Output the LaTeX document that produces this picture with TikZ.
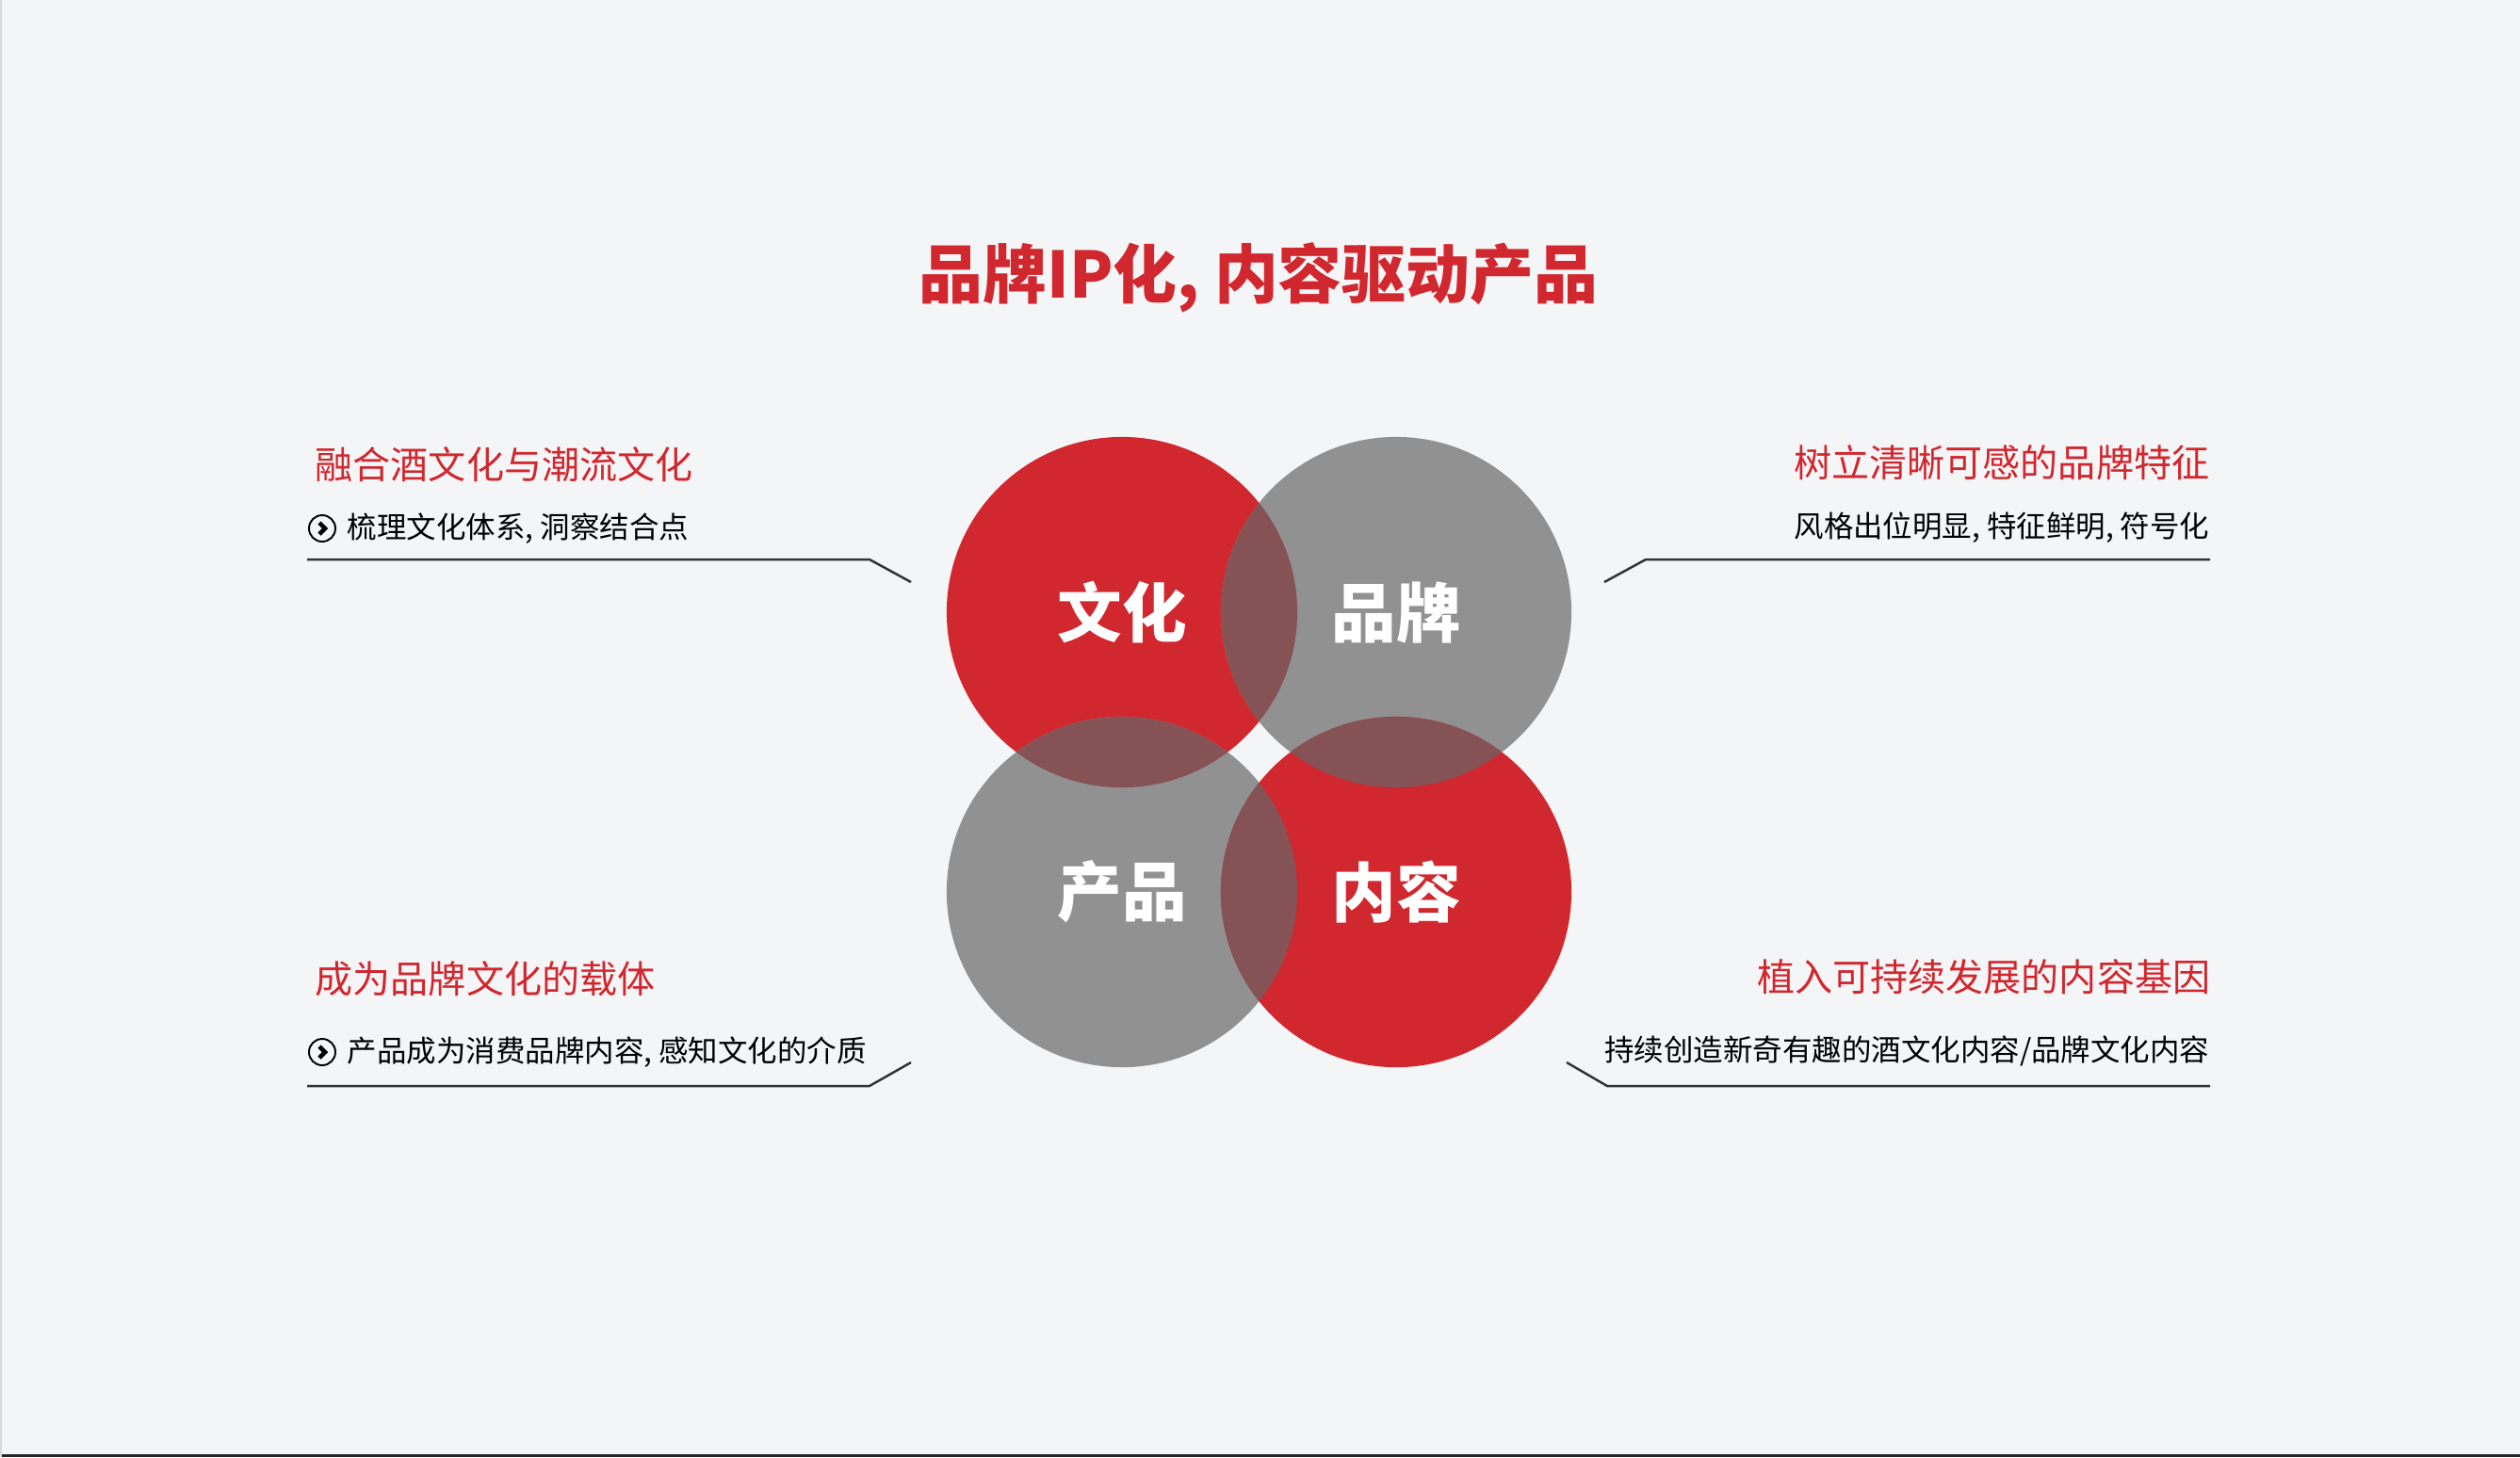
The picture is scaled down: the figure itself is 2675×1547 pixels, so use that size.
\documentclass[tikz,border=0pt]{standalone}
\usepackage{fontspec}
\newfontfamily\cjk{Noto Sans CJK SC}
\usetikzlibrary{positioning}
\definecolor{brandred}{RGB}{209,39,46}
\definecolor{bubblegray}{RGB}{145,145,145}
\definecolor{lensbrown}{RGB}{133,82,86}
\definecolor{pagebg}{RGB}{244,245,247}
\definecolor{rulegray}{RGB}{51,51,51}

\begin{document}
\begin{tikzpicture}[x=0.01cm, y=-0.01cm,
										bubble/.style={circle, minimum size=3.72cm, inner sep=0pt, text=white,
											font=\cjk\bfseries\fontsize{19.5pt}{19.5pt}\selectfont},
										headline/.style={inner sep=0pt, text=brandred,
											font=\cjk\fontsize{11.4pt}{11.4pt}\selectfont},
										subline/.style={inner sep=0pt, text=black,
											font=\cjk\fontsize{8.95pt}{8.95pt}\selectfont},
										arrowdot/.style={circle, draw=black, line width=0.55pt, minimum size=0.28cm, inner sep=0pt},
										leader/.style={draw=rulegray, line width=0.7pt}]
	\useasboundingbox (0,0) rectangle (2675,1547);
	\fill[pagebg] (0,0) rectangle (2675,1547);
	\draw[black!85, line width=0.9pt] (0,1545.5) -- (2675,1545.5);
	\draw[black!15, line width=0.3pt] (1,0) -- (1,1547);

	\node [font=\cjk\bfseries\fontsize{19.3pt}{19.3pt}\selectfont, text=brandred, inner sep=0pt] (title) at (1336,295) {品牌IP化, 内容驱动产品};

	\node [bubble, fill=brandred] (wenhua) at (1191,650) {};
	\node [bubble, fill=bubblegray] (pinpai) at (1482,650) {};
	\node [bubble, fill=bubblegray] (chanpin) at (1191,947) {};
	\node [bubble, fill=brandred] (neirong) at (1482,947) {};
	\begin{scope}
		\clip (wenhua.center) circle (1.86cm);
		\fill[lensbrown] (pinpai.center) circle (1.86cm);
		\fill[lensbrown] (chanpin.center) circle (1.86cm);
	\end{scope}
	\begin{scope}
		\clip (neirong.center) circle (1.86cm);
		\fill[lensbrown] (pinpai.center) circle (1.86cm);
		\fill[lensbrown] (chanpin.center) circle (1.86cm);
	\end{scope}
	\node [bubble] at (wenhua) {文化};
	\node [bubble] at (pinpai) {品牌};
	\node [bubble] at (chanpin) {产品};
	\node [bubble] at (neirong) {内容};

	\node [headline, anchor=west] (headwh) at (334,493) {融合酒文化与潮流文化};
	\node [arrowdot] (dotwh) at (342,561) {};
	\draw [line width=1.3pt, shift={(dotwh.center)}] (-3,-6) -- (3,0) -- (-3,6);
	\node [subline, right=3.2pt of dotwh] (subwh) {梳理文化体系, 洞察结合点};
	\coordinate (tipwh) at (967,618);
	\draw [leader] (326,594) -- (923,594) -- (tipwh);

	\node [headline, anchor=east] (headpp) at (2346,491) {树立清晰可感的品牌特征};
	\node [subline, anchor=east] (subpp) at (2346,560) {风格出位明显, 特征鲜明, 符号化};
	\coordinate (tippp) at (1703,618);
	\draw [leader] (tippp) -- (1747,594) -- (2346,594);

	\node [headline, anchor=west] (headcp) at (334,1039) {成为品牌文化的载体};
	\node [arrowdot] (dotcp) at (342,1117) {};
	\draw [line width=1.3pt, shift={(dotcp.center)}] (-3,-6) -- (3,0) -- (-3,6);
	\node [subline, right=3.2pt of dotcp] (subcp) {产品成为消费品牌内容, 感知文化的介质};
	\coordinate (tipcp) at (967,1128);
	\draw [leader] (326,1153) -- (923,1153) -- (tipcp);

	\node [headline, anchor=east] (headnr) at (2347,1037) {植入可持续发展的内容基因};
	\node [subline, anchor=east] (subnr) at (2346,1116) {持续创造新奇有趣的酒文化内容/品牌文化内容};
	\coordinate (tipnr) at (1663,1128);
	\draw [leader] (tipnr) -- (1706,1153) -- (2346,1153);
\end{tikzpicture}
\end{document}
